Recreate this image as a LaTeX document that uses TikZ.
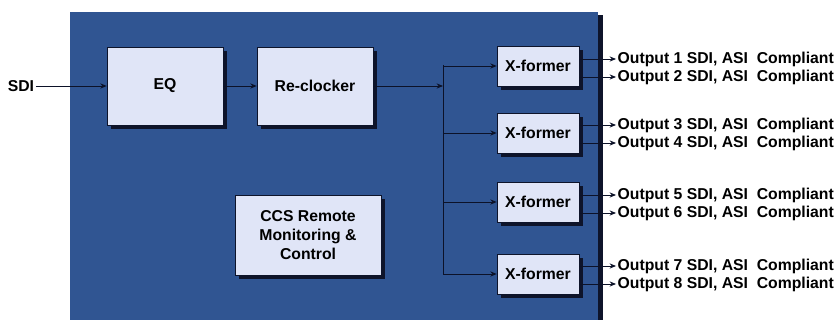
\documentclass[tikz,border=0pt]{standalone}
\usepackage{fontspec}
\setmainfont{Liberation Sans}
\usepackage{xcolor}
\definecolor{panelblue}{RGB}{48,85,146}
\definecolor{boxfill}{RGB}{224,229,247}
\definecolor{shadownavy}{RGB}{14,20,42}
\definecolor{wirenavy}{RGB}{12,18,40}
\usetikzlibrary{arrows.meta, positioning, shadows}

\newcommand{\diagfont}{\fontsize{11.2}{13.4}\selectfont\bfseries}

\tikzset{
  blockbox/.style={draw=shadownavy, fill=boxfill, thin, align=center,
    font=\diagfont, inner sep=2pt,
    drop shadow={shadow xshift=0.09cm, shadow yshift=-0.09cm, fill=shadownavy, opacity=1}},
  wire/.style={wirenavy, line width=0.6pt},
  wirearrow/.style={wire, -{Stealth[length=1.6mm, width=1.3mm]}},
  outlabel/.style={font=\diagfont, anchor=west, inner sep=1pt}
}

\begin{document}
\begin{tikzpicture}[x=0.025cm, y=-0.025cm]
\useasboundingbox (0,0) rectangle (839,320);

% --- Chassis panel ---
\fill[panelblue] (70,12) rectangle (598,320);
\fill[shadownavy] (598,15) rectangle (603,320);

% --- Input chain ---
\node[font=\diagfont, inner sep=1pt] (sdi) at (21,86) {SDI};
\node[blockbox, minimum width=2.9cm, minimum height=1.95cm] (eq) at (165,86) {EQ};
\node[blockbox, minimum width=2.9cm, minimum height=1.95cm] (rclk) at (315,86) {Re-clocker};

\draw[wirearrow] (sdi) -- (eq);
\draw[wirearrow] (eq) -- (rclk);

% Split bus
\coordinate (split) at (443,86);
\coordinate (bustop) at (443,65);
\coordinate (busbot) at (443,275);
\draw[wirearrow] (rclk) -- (split);
\draw[wire] (bustop) -- (busbot);

% --- Transformers ---
\node[blockbox, minimum width=2.05cm, minimum height=1.0cm] (xf1) at (538,66) {X-former};
\node[blockbox, minimum width=2.05cm, minimum height=1.0cm] (xf2) at (538,133) {X-former};
\node[blockbox, minimum width=2.05cm, minimum height=1.0cm] (xf3) at (538,202) {X-former};
\node[blockbox, minimum width=2.05cm, minimum height=1.0cm] (xf4) at (538,274) {X-former};

\draw[wirearrow] (bustop |- xf1) -- (xf1);
\draw[wirearrow] (bustop |- xf2) -- (xf2);
\draw[wirearrow] (bustop |- xf3) -- (xf3);
\draw[wirearrow] (busbot |- xf4) -- (xf4);

% --- Monitoring block ---
\node[blockbox, minimum width=3.65cm, minimum height=2.0cm] (ccs) at (308,235) {CCS Remote\\Monitoring \&\\Control};

% --- Outputs ---
\node[outlabel] (out1) at (616,59) {Output 1 SDI, ASI~~Compliant};
\node[outlabel] (out2) at (616,77) {Output 2 SDI, ASI~~Compliant};
\node[outlabel] (out3) at (616,125) {Output 3 SDI, ASI~~Compliant};
\node[outlabel] (out4) at (616,143) {Output 4 SDI, ASI~~Compliant};
\node[outlabel] (out5) at (616,195) {Output 5 SDI, ASI~~Compliant};
\node[outlabel] (out6) at (616,213) {Output 6 SDI, ASI~~Compliant};
\node[outlabel] (out7) at (616,266) {Output 7 SDI, ASI~~Compliant};
\node[outlabel] (out8) at (616,284) {Output 8 SDI, ASI~~Compliant};

\draw[wirearrow] (xf1.east |- out1.west) -- (out1.west);
\draw[wirearrow] (xf1.east |- out2.west) -- (out2.west);
\draw[wirearrow] (xf2.east |- out3.west) -- (out3.west);
\draw[wirearrow] (xf2.east |- out4.west) -- (out4.west);
\draw[wirearrow] (xf3.east |- out5.west) -- (out5.west);
\draw[wirearrow] (xf3.east |- out6.west) -- (out6.west);
\draw[wirearrow] (xf4.east |- out7.west) -- (out7.west);
\draw[wirearrow] (xf4.east |- out8.west) -- (out8.west);

\end{tikzpicture}
\end{document}
